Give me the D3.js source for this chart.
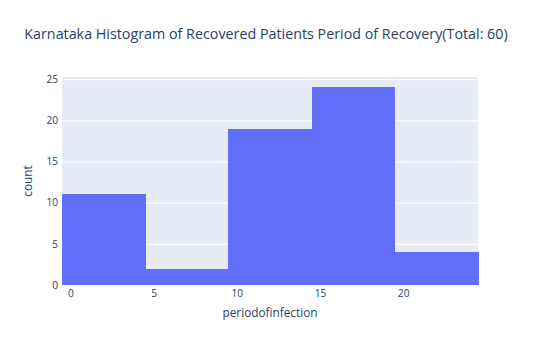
<!DOCTYPE html>
<html><head><meta charset="utf-8">
<script src="https://cdn.jsdelivr.net/npm/d3@7"></script>
<style>body{margin:0;background:#fff}</style>
</head><body>
<svg id="c" width="540" height="347"></svg>
<script>
const binStarts = [-0.5, 4.5, 9.5, 14.5, 19.5];
const binWidth = 5;
const counts = [11, 2, 19, 24, 4];
const xTicks = [0, 5, 10, 15, 20];
const yTicks = [0, 5, 10, 15, 20, 25];
const title = "Karnataka Histogram of Recovered Patients Period of Recovery(Total: 60)";
const xLabel = "periodofinfection";
const yLabel = "count";

const font = "'Open Sans', 'Noto Sans', sans-serif";
const svg = d3.select("#c");
const m = {l: 62, r: 478, t: 77, b: 285};
const x = d3.scaleLinear().domain([-0.5, 24.5]).range([m.l, m.r]);
const y = d3.scaleLinear().domain([0, 24 * 20 / 19]).range([m.b, m.t]);

svg.append("rect").attr("x", m.l).attr("y", m.t).attr("width", m.r - m.l).attr("height", m.b - m.t).attr("fill", "#E5ECF6");

const ga = svg.append("g").attr("transform", `translate(${m.l},0)`)
  .call(d3.axisLeft(y).tickValues(yTicks).tickSize(-(m.r - m.l)).tickPadding(4));
ga.select(".domain").remove();
ga.selectAll("line").attr("stroke", "#fff").attr("stroke-width", 1);
ga.selectAll("text").attr("fill", "#2a3f5f").style("font-family", font).style("font-size", "10.1px");

svg.append("g").attr("shape-rendering", "crispEdges").selectAll("rect").data(counts).join("rect")
  .attr("x", (d, i) => x(binStarts[i]))
  .attr("width", (d, i) => x(binStarts[i] + binWidth) - x(binStarts[i]) + 0.5)
  .attr("y", d => y(d))
  .attr("height", d => y(0) - y(d))
  .attr("fill", "#636efa");

const gx = svg.append("g").attr("transform", `translate(0,${m.b})`)
  .call(d3.axisBottom(x).tickValues(xTicks).tickSize(0).tickPadding(5));
gx.select(".domain").remove();
gx.selectAll("text").attr("fill", "#2a3f5f").style("font-family", font).style("font-size", "10.1px");

svg.append("text").attr("x", 266).attr("y", 39).attr("text-anchor", "middle")
  .attr("fill", "#2a3f5f").style("font-family", font).style("font-size", "14.3px").text(title);
svg.append("text").attr("x", (m.l + m.r) / 2).attr("y", 317).attr("text-anchor", "middle")
  .attr("fill", "#2a3f5f").style("font-family", font).style("font-size", "11.8px").text(xLabel);
svg.append("text").attr("transform", `translate(32,${(m.t + m.b) / 2}) rotate(-90)`).attr("text-anchor", "middle")
  .attr("fill", "#2a3f5f").style("font-family", font).style("font-size", "11.8px").text(yLabel);
</script>
</body></html>
